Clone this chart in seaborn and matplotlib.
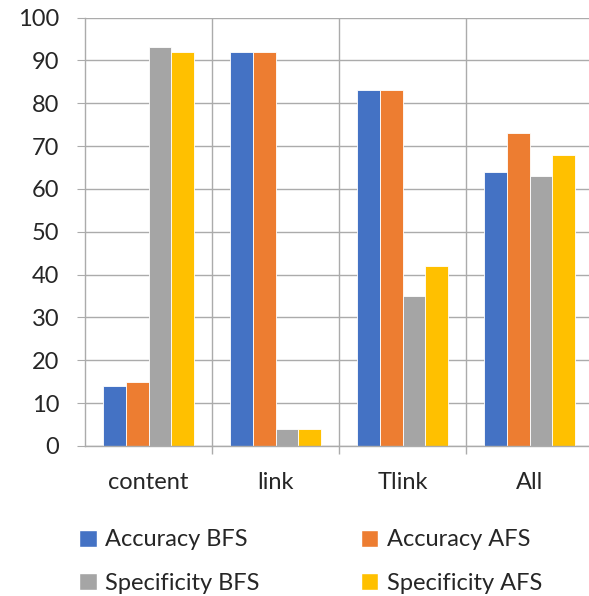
import matplotlib
matplotlib.use("Agg")
import matplotlib.pyplot as plt
import seaborn as sns
import pandas as pd
import numpy as np
from matplotlib.patches import Patch

categories = ["content", "link", "Tlink", "All"]
series = ["Accuracy BFS", "Accuracy AFS", "Specificity BFS", "Specificity AFS"]
accuracy_bfs = [14, 92, 83, 64]
accuracy_afs = [15, 92, 83, 73]
specificity_bfs = [93, 4, 35, 63]
specificity_afs = [92, 4, 42, 68]
colors = ["#4472C4", "#ED7D31", "#A5A5A5", "#FFC000"]
y_ticks = list(range(0, 101, 10))

values = [accuracy_bfs, accuracy_afs, specificity_bfs, specificity_afs]
rows = []
for s, vals in zip(series, values):
    for c, v in zip(categories, vals):
        rows.append({"category": c, "series": s, "value": v})
df = pd.DataFrame(rows)

sns.set_style("white")
plt.rcParams["font.family"] = ["Lato", "DejaVu Sans"]

fig = plt.figure(figsize=(5.89, 5.96), dpi=100)
ax = fig.add_axes([85 / 589, 1 - 446 / 596, (589 - 85) / 589, (446 - 17.5) / 596])

sns.barplot(data=df, x="category", y="value", hue="series", order=categories,
            hue_order=series, palette=colors, width=0.72, ax=ax,
            edgecolor="white", linewidth=0.6, saturation=1, legend=False)

grid_c = "#ABABAB"
fs = 17
ax.set_ylim(0, 100)
ax.set_xlim(-0.5, 3.5 - 4 / 127)
ax.set_yticks(y_ticks)
ax.set_yticklabels([str(t) for t in y_ticks])
ax.set_xticks(range(len(categories)))
ax.set_xticks([0.5, 1.5, 2.5], minor=True)
ax.yaxis.grid(True, color=grid_c, linewidth=1.0)
ax.xaxis.grid(True, which="minor", color=grid_c, linewidth=1.0)
ax.xaxis.grid(False, which="major")
ax.set_axisbelow(True)
ax.set_xlabel("")
ax.set_ylabel("")
for side in ["top", "right"]:
    ax.spines[side].set_visible(False)
for side in ["left", "bottom"]:
    ax.spines[side].set_color(grid_c)
    ax.spines[side].set_linewidth(1.0)

ax.tick_params(axis="y", which="major", length=6, color=grid_c, labelsize=fs, pad=12.5, left=True)
ax.tick_params(axis="x", which="major", length=0, labelsize=fs, pad=18.5)
ax.tick_params(axis="x", which="minor", length=6, color=grid_c, bottom=True, width=1.0)

handles = [Patch(facecolor=colors[i], label=series[i]) for i in [0, 2, 1, 3]]
fig.legend(handles=handles, ncol=2, loc="upper left",
           bbox_to_anchor=(70 / 589, 1 - 520 / 596), frameon=False,
           fontsize=fs, handlelength=0.75, handleheight=0.75, handletextpad=0.35,
           columnspacing=4.27, labelspacing=0.95, borderaxespad=0)

fig.savefig("out.png", dpi=100)
